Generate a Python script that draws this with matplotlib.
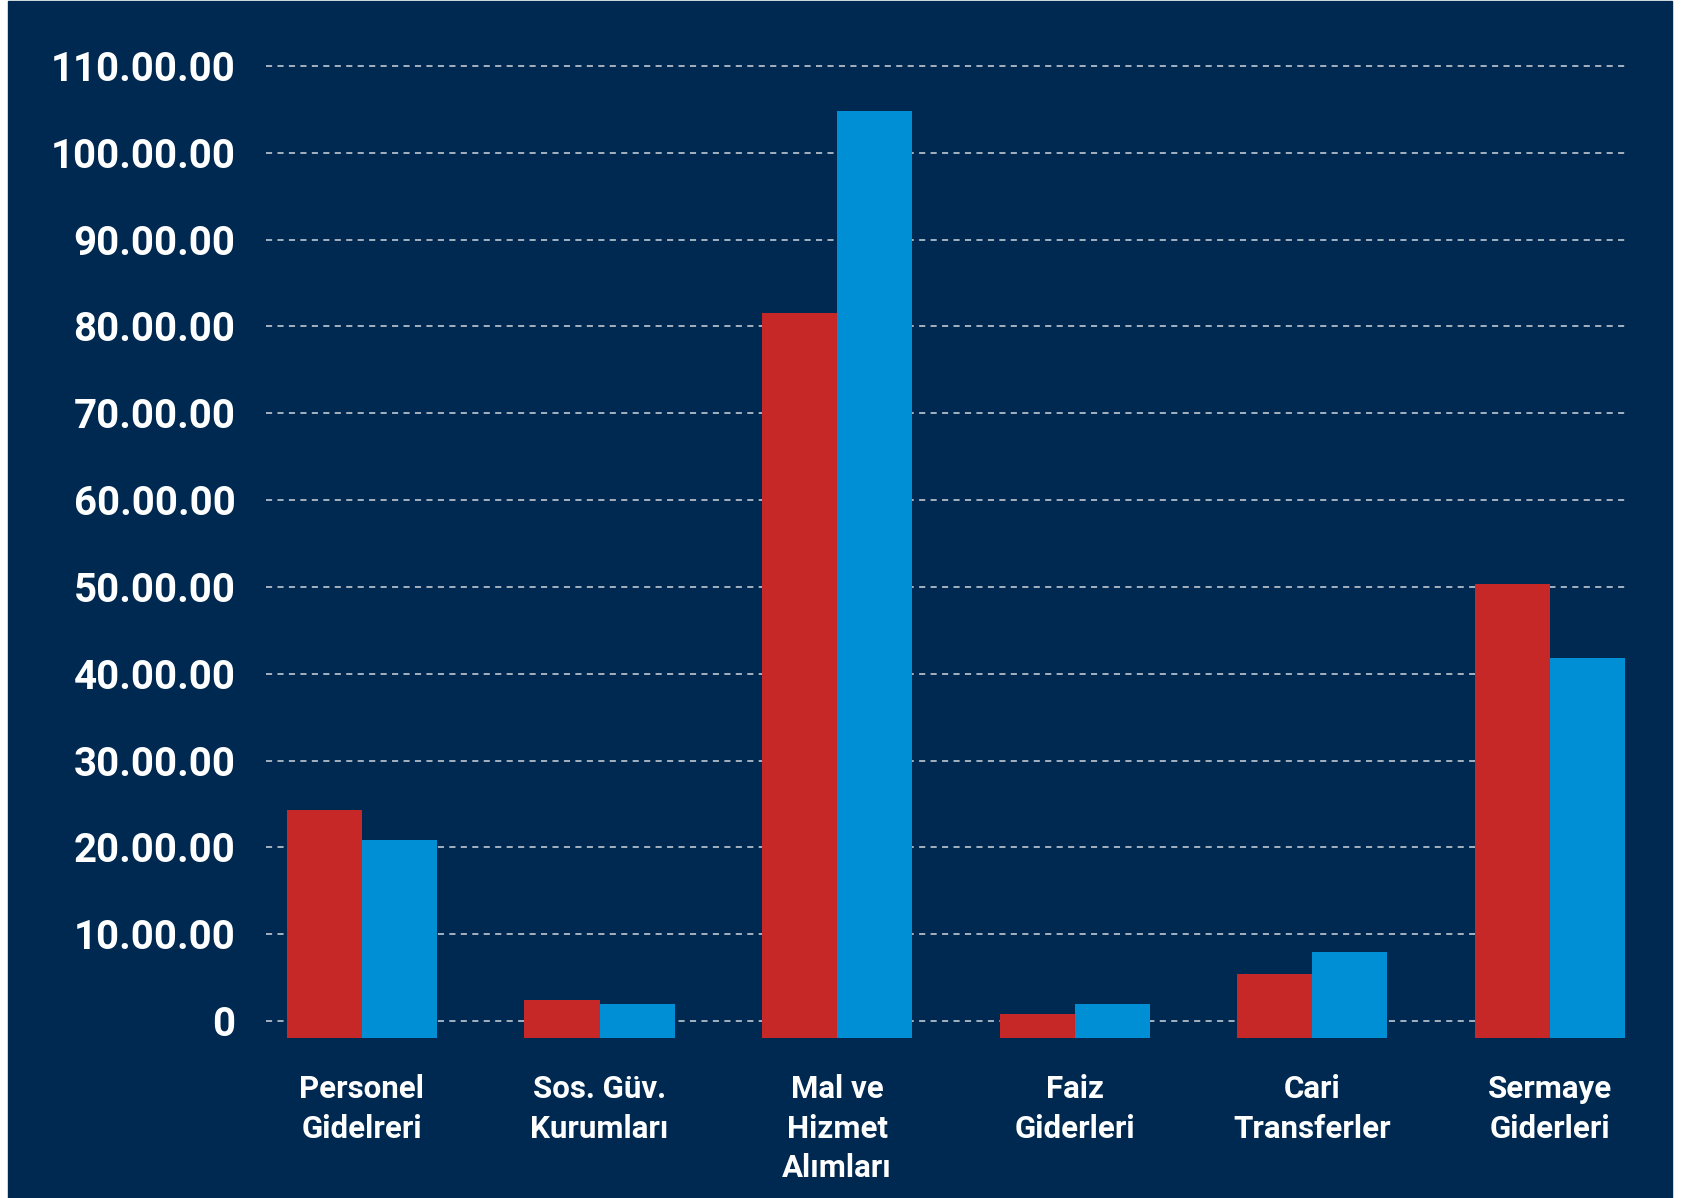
import matplotlib
matplotlib.use("Agg")
import matplotlib.pyplot as plt
import numpy as np
from matplotlib.patches import Rectangle

categories = ['Personel\nGidelreri', 'Sos. Güv.\nKurumları', 'Mal ve\nHizmet\nAlımları',
              'Faiz\nGiderleri', 'Cari\nTransferler', 'Sermaye\nGiderleri']
red_vals = [24.3, 2.4, 81.6, 0.8, 5.4, 50.3]
blue_vals = [20.8, 2.0, 104.8, 2.0, 8.0, 41.8]
tick_vals = [0, 10, 20, 30, 40, 50, 60, 70, 80, 90, 100, 110]
tick_labels = ['0', '10.00.00', '20.00.00', '30.00.00', '40.00.00', '50.00.00', '60.00.00',
               '70.00.00', '80.00.00', '90.00.00', '100.00.00', '110.00.00']

navy = '#002952'
red = '#c62828'
blue = '#008fd5'

plt.rcParams['font.family'] = ['Roboto', 'DejaVu Sans']

W, H = 1682, 1198
fig = plt.figure(figsize=(W / 100, H / 100), dpi=100, facecolor='white')
# dark panel behind everything (small white margins left/right)
fig.patches.append(Rectangle((8 / W, 0), (1672 - 8) / W, 1 - 1 / H,
                             transform=fig.transFigure, color=navy, zorder=-10))

# axes placement in pixels
left, right, bottom, top = 266, 1625, 1038, 40
ax = fig.add_axes([left / W, 1 - bottom / H, (right - left) / W, (bottom - top) / H])
ax.set_facecolor('none')

base = -1.96  # bars sit slightly below the zero line, as in the original
ax.set_ylim(base, 113.0)
w = 0.316
x = np.arange(len(categories))
ax.set_xlim(-0.404, x[-1] + w)

ax.bar(x - w / 2, np.array(red_vals) - base, bottom=base, width=w, color=red, zorder=3)
ax.bar(x + w / 2, np.array(blue_vals) - base, bottom=base, width=w, color=blue, zorder=3)

for t in tick_vals:
    ax.axhline(t, color='#d0d6de', lw=1.1, dashes=(4, 3.5), zorder=1)

ax.set_yticks(tick_vals)
ax.set_yticklabels(tick_labels, fontsize=29, fontweight='bold', color='white')
ax.set_xticks(x)
ax.set_xticklabels(categories, fontsize=22.5, fontweight='bold', color='white',
                   linespacing=1.4)
ax.tick_params(axis='y', length=0, pad=22)
ax.tick_params(axis='x', length=0, pad=26)
for s in ax.spines.values():
    s.set_visible(False)

fig.savefig('out.png', dpi=100, facecolor=fig.get_facecolor())
